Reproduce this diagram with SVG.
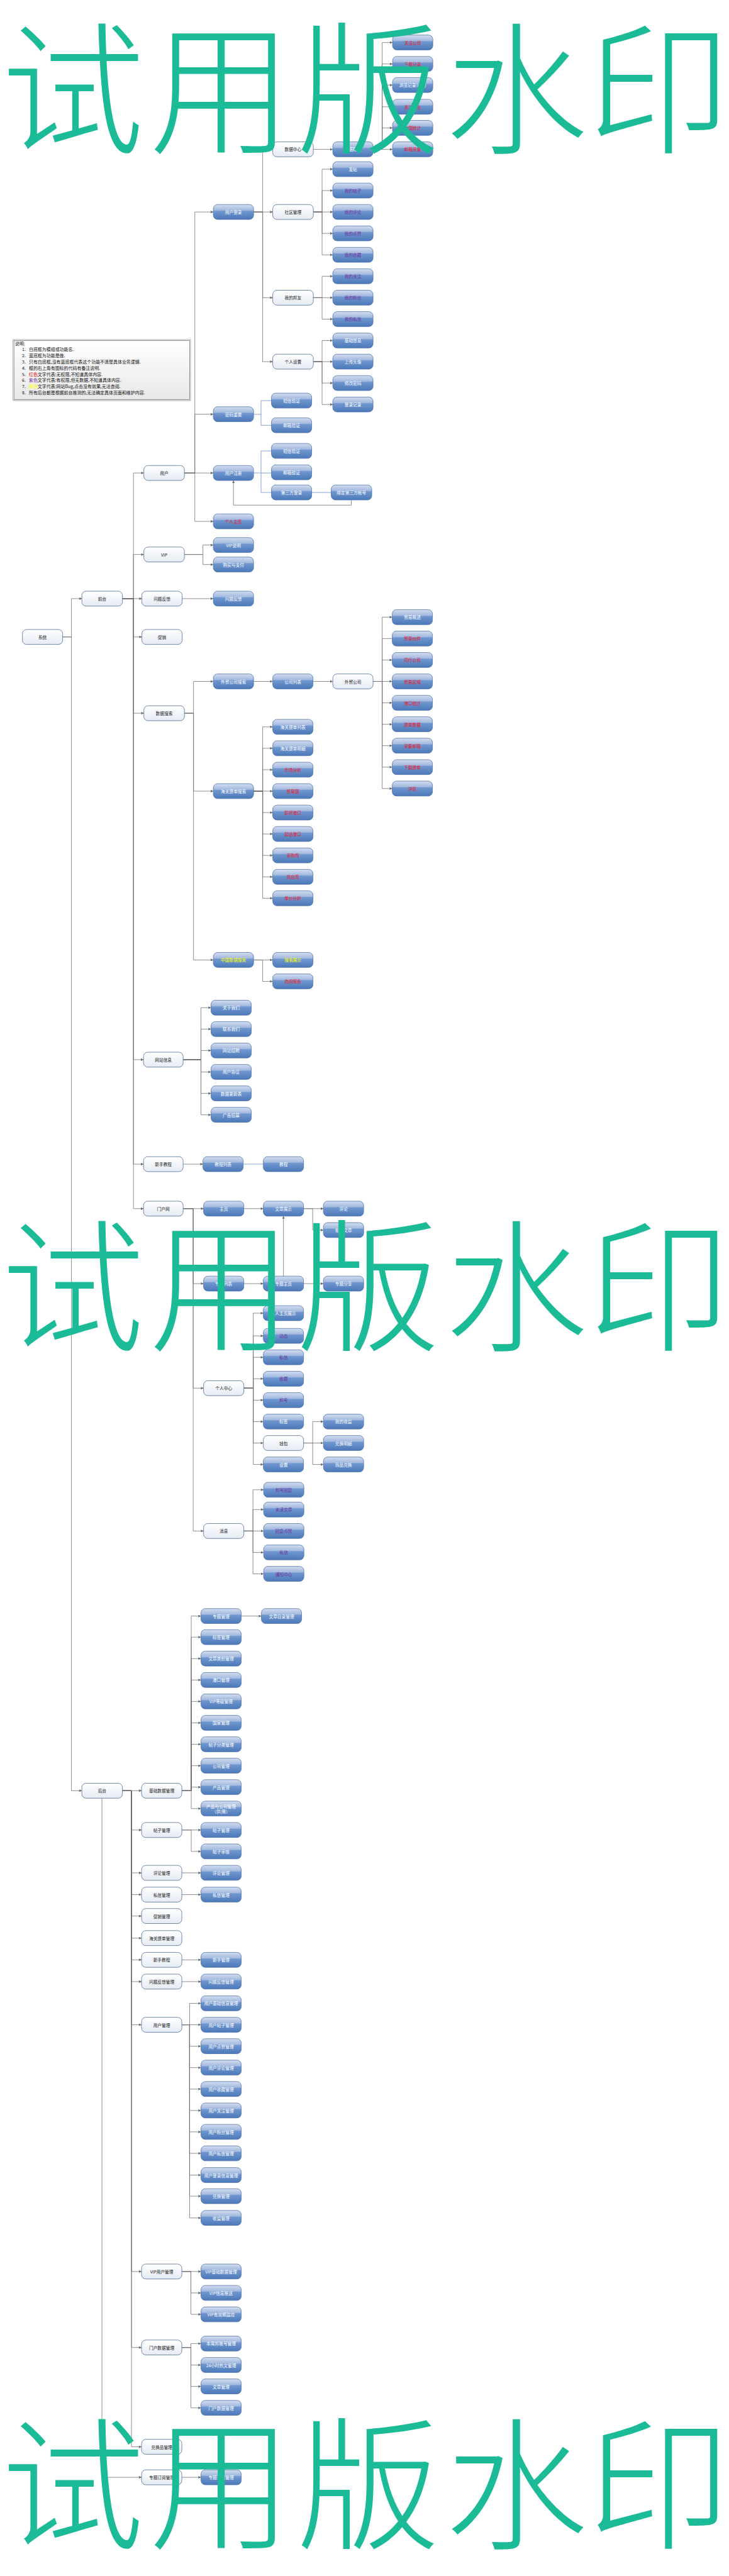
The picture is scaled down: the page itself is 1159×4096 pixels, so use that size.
<svg xmlns="http://www.w3.org/2000/svg" width="1159" height="4096" viewBox="0 0 1159 4096">
<defs>
<linearGradient id="gb" x1="0" y1="0" x2="0" y2="1"><stop offset="0" stop-color="#d3ddef"/><stop offset="0.38" stop-color="#a3b9df"/><stop offset="0.44" stop-color="#7097cf"/><stop offset="1" stop-color="#4c79b9"/></linearGradient>
<linearGradient id="gw" x1="0" y1="0" x2="0" y2="1"><stop offset="0" stop-color="#ffffff"/><stop offset="1" stop-color="#e5ebf4"/></linearGradient>
<linearGradient id="gl" x1="0" y1="0" x2="0" y2="1"><stop offset="0" stop-color="#ffffff"/><stop offset="1" stop-color="#e8e8e8"/></linearGradient>
<marker id="ar" viewBox="0 0 10 10" refX="10" refY="5" markerWidth="10" markerHeight="8" markerUnits="userSpaceOnUse" orient="auto"><path d="M0,0L10,5L0,10z" fill="#6b6b6b"/></marker>
</defs>
<style>
.nb{fill:url(#gb);stroke:#4a70a8;stroke-width:1.5}
.nw{fill:url(#gw);stroke:#4a6790;stroke-width:1.5}
.t{font-family:"Noto Sans CJK SC","Liberation Sans",sans-serif;font-size:13px;text-anchor:middle;dominant-baseline:central}
.tw{fill:#ffffff}.tr{fill:#f0141e}.tp{fill:#7030a0}.ty{fill:#ffff00}.tk{fill:#222222}
.e path{fill:none;stroke:#6e6e6e;stroke-width:1.5;marker-end:url(#ar)}
.e path.na{marker-end:none}
.eb path{fill:none;stroke:#8aa7cf;stroke-width:2}
.lg{font-family:"Noto Sans CJK SC","Liberation Sans",sans-serif;font-size:13.5px;fill:#111;dominant-baseline:central}
.wm{font-family:"Noto Sans CJK SC","Liberation Serif",serif;font-size:440px;font-weight:300;fill:#1bbb98;text-anchor:middle}
</style>
<rect width="1159" height="4096" fill="#ffffff"/>
<g transform="scale(0.5162)">
<g id="legend">
<rect x="40" y="1046" width="547" height="188" fill="none" stroke="#9a9a9a" stroke-width="1.5"/>
<rect x="43" y="1049" width="541" height="182" fill="url(#gl)" stroke="#555" stroke-width="1.2"/>
<text class="lg" x="46" y="1057">说明:</text>
<text class="lg" x="68" y="1076">1.</text><text class="lg" x="89" y="1076">白底框为模组或功能名.</text>
<text class="lg" x="68" y="1095">2.</text><text class="lg" x="89" y="1095">蓝底框为功能是做.</text>
<text class="lg" x="68" y="1114">3.</text><text class="lg" x="89" y="1114">只有白底框,没有蓝底框代表这个功能不清楚具体业务逻辑.</text>
<text class="lg" x="68" y="1133">4.</text><text class="lg" x="89" y="1133">框的右上角有图标的代码有备注说明.</text>
<text class="lg" x="68" y="1152">5.</text><text class="lg" x="89" y="1152"><tspan fill="#e00000">红色</tspan>文字代表:无权限,不知道具体内容.</text>
<text class="lg" x="68" y="1171">6.</text><text class="lg" x="89" y="1171"><tspan fill="#7030a0">紫色</tspan>文字代表:有权限,但无数据,不知道具体内容.</text>
<text class="lg" x="68" y="1190">7.</text><text class="lg" x="89" y="1190"><tspan fill="#ffff00">黄色</tspan>文字代表:网站Bug,点击没有效果,无法查阅.</text>
<text class="lg" x="68" y="1209">8.</text><text class="lg" x="89" y="1209">所有后台都是根据前台推测的,无法确定具体页面和维护内容.</text>
</g>
<g id="edges" class="e">
<path d="M193,1962H220V1844H252"/><path d="M193,1962H220V5516H252"/>
<path d="M377,1844H411V1457H443"/><path d="M377,1844H411V1708H443"/><path d="M377,1844H437"/><path d="M377,1844H411V1962H437"/><path d="M377,1844H411V2197H443"/><path d="M377,1844H411V3264H442"/><path d="M377,1844H411V3586H442"/><path d="M377,1844H411V3723H442"/>
<path d="M568,1457H600V653H657"/><path d="M568,1457H600V1276H657"/><path d="M568,1457H657"/><path d="M568,1457H600V1606H657"/>
<path d="M781,653H809V460H840"/><path d="M781,653H840"/><path d="M781,653H809V917H840"/><path d="M781,653H809V1114H840"/>
<path d="M965,460H1025"/>
<path d="M1149,460H1177V131H1209"/><path d="M1149,460H1177V197H1209"/><path d="M1149,460H1177V262H1209"/><path d="M1149,460H1177V329H1209"/><path d="M1149,460H1177V394H1209"/><path d="M1149,460H1209"/>
<path d="M965,653H992V521H1025"/><path d="M965,653H992V587H1025"/><path d="M965,653H1025"/><path d="M965,653H992V719H1025"/><path d="M965,653H992V785H1025"/>
<path d="M965,917H992V851H1025"/><path d="M965,917H1025"/><path d="M965,917H992V983H1025"/>
<path d="M965,1114H992V1049H1025"/><path d="M965,1114H1025"/><path d="M965,1114H992V1180H1025"/><path d="M965,1114H992V1246H1025"/>
<path d="M1082,1540V1556H719V1480"/>
<path d="M568,1708H625V1679H657"/><path d="M568,1708H625V1739H657"/>
<path d="M561,1844H657"/>
<path d="M568,2197H596V2099H657"/><path d="M568,2197H596V2437H657"/><path d="M568,2197H596V2957H657"/>
<path d="M781,2099H840"/><path d="M964,2099H1025"/>
<path d="M1149,2099H1177V1901H1208"/><path class="na" d="M1149,2099H1177V1967H1208"/><path d="M1149,2099H1177V2033H1208"/><path d="M1149,2099H1208"/><path d="M1149,2099H1177V2165H1208"/><path d="M1149,2099H1177V2231H1208"/><path d="M1149,2099H1177V2297H1208"/><path d="M1149,2099H1177V2363H1208"/><path d="M1149,2099H1177V2429H1208"/>
<path d="M781,2437H809V2239H840"/><path d="M781,2437H809V2305H840"/><path d="M781,2437H809V2371H840"/><path d="M781,2437H840"/><path d="M781,2437H809V2503H840"/><path d="M781,2437H809V2569H840"/><path d="M781,2437H809V2635H840"/><path d="M781,2437H809V2701H840"/><path d="M781,2437H809V2767H840"/>
<path d="M781,2957H840"/><path d="M781,2957H809V3023H840"/>
<path d="M564,3264H619V3104H650"/><path d="M564,3264H619V3170H650"/><path d="M564,3264H619V3236H650"/><path d="M564,3264H619V3302H650"/><path d="M564,3264H619V3368H650"/><path d="M564,3264H619V3434H650"/>
<path d="M564,3586H625"/>
<path d="M564,3723H627"/><path d="M564,3723H595V3954H627"/><path d="M564,3723H595V4276H627"/><path d="M564,3723H595V4716H627"/>
<path d="M751,3723H811"/><path d="M935,3723H996"/><path d="M935,3723H963V3789H996"/>
<path d="M751,3954H811"/><path d="M935,3954H996"/><path d="M873,3931V3746"/>
<path d="M751,4276H780V4045H811"/><path d="M751,4276H780V4115H811"/><path d="M751,4276H780V4181H811"/><path d="M751,4276H780V4247H811"/><path d="M751,4276H780V4313H811"/><path d="M751,4276H780V4379H811"/><path d="M751,4276H780V4445H811"/><path d="M751,4276H780V4511H811"/>
<path d="M935,4445H963V4379H996"/><path d="M935,4445H996"/><path d="M935,4445H963V4511H996"/>
<path d="M751,4716H779V4589H812"/><path d="M751,4716H779V4650H812"/><path d="M751,4716H812"/><path d="M751,4716H779V4782H812"/><path d="M751,4716H779V4848H812"/>
<path d="M377,5516H436"/><path d="M377,5516H405V5637H436"/><path d="M377,5516H405V5769H436"/><path d="M377,5516H405V5836H436"/><path d="M377,5516H405V5902H436"/><path d="M377,5516H405V5970H436"/><path d="M377,5516H405V6037H436"/><path d="M377,5516H405V6104H436"/><path d="M377,5516H405V6237H436"/><path d="M377,5516H405V6997H436"/><path d="M377,5516H405V7231H436"/><path d="M377,5516H405V7537H436"/>
<path d="M314,5539V7631H436"/>
<path d="M560,5516H589V4978H619"/><path d="M560,5516H589V5043H619"/><path d="M560,5516H589V5109H619"/><path d="M560,5516H589V5175H619"/><path d="M560,5516H589V5241H619"/><path d="M560,5516H589V5307H619"/><path d="M560,5516H589V5373H619"/><path d="M560,5516H589V5439H619"/><path d="M560,5516H589V5505H619"/><path d="M560,5516H589V5571H619"/>
<path d="M743,4978H805"/>
<path d="M560,5637H619"/><path d="M560,5637H589V5703H619"/>
<path d="M560,5769H619"/><path d="M560,5836H619"/><path d="M560,6037H619"/><path d="M560,6104H619"/>
<path d="M560,6237H584V6171H619"/><path d="M560,6237H619"/><path d="M560,6237H584V6303H619"/><path d="M560,6237H584V6369H619"/><path d="M560,6237H584V6435H619"/><path d="M560,6237H584V6501H619"/><path d="M560,6237H584V6567H619"/><path d="M560,6237H584V6633H619"/><path d="M560,6237H584V6700H619"/><path d="M560,6237H584V6765H619"/><path d="M560,6237H584V6832H619"/>
<path d="M560,6997H619"/><path d="M560,6997H588V7063H619"/><path d="M560,6997H588V7129H619"/>
<path d="M560,7231H588V7219H619"/><path d="M560,7231H588V7285H619"/><path d="M560,7231H588V7351H619"/><path d="M560,7231H588V7417H619"/>
<path d="M560,7631H619"/>
</g>
<g id="edges-blue" class="eb">
<path d="M781,1276H804V1234H836"/><path d="M804,1276V1310H836"/>
<path d="M781,1457H804V1389H836"/><path d="M804,1457H836"/><path d="M804,1457V1517H836"/>
<path d="M960,1517H1020"/>
<path d="M749,3586H811"/>
</g>
<g id="nodes">
<g id="n-root"><rect class="nw" x="69" y="1939" width="124" height="46" rx="13"/><text class="t tk" x="131" y="1962">系统</text></g>
<g id="n-qt"><rect class="nw" x="252" y="1821" width="125" height="46" rx="13"/><text class="t tk" x="314.5" y="1844">前台</text></g>
<g id="n-ht"><rect class="nw" x="252" y="5493" width="125" height="46" rx="13"/><text class="t tk" x="314.5" y="5516">后台</text></g>
<g id="n-yh"><rect class="nw" x="443" y="1434" width="125" height="46" rx="13"/><text class="t tk" x="505.5" y="1457">用户</text></g>
<g id="n-vip"><rect class="nw" x="443" y="1685" width="125" height="46" rx="13"/><text class="t tk" x="505.5" y="1708">VIP</text></g>
<g id="n-wtfk"><rect class="nw" x="437" y="1821" width="124" height="46" rx="13"/><text class="t tk" x="499" y="1844">问题反馈</text></g>
<g id="n-cx"><rect class="nw" x="437" y="1939" width="124" height="46" rx="13"/><text class="t tk" x="499" y="1962">促销</text></g>
<g id="n-sjss"><rect class="nw" x="443" y="2174" width="125" height="46" rx="13"/><text class="t tk" x="505.5" y="2197">数据搜索</text></g>
<g id="n-wzxx"><rect class="nw" x="442" y="3241" width="122" height="46" rx="13"/><text class="t tk" x="503" y="3264">网站信息</text></g>
<g id="n-xsjc"><rect class="nw" x="442" y="3563" width="122" height="46" rx="13"/><text class="t tk" x="503" y="3586">新手教程</text></g>
<g id="n-mhw"><rect class="nw" x="442" y="3700" width="122" height="46" rx="13"/><text class="t tk" x="503" y="3723">门户网</text></g>
<g id="n-yhdl"><rect class="nb" x="657" y="630" width="124" height="46" rx="13"/><text class="t tw" x="719" y="653">用户登录</text></g>
<g id="n-mmcz"><rect class="nb" x="657" y="1253" width="124" height="46" rx="13"/><text class="t tw" x="719" y="1276">密码重置</text></g>
<g id="n-yhzc"><rect class="nb" x="657" y="1434" width="124" height="46" rx="13"/><text class="t tw" x="719" y="1457">用户注册</text></g>
<g id="n-grzy"><rect class="nb" x="657" y="1583" width="124" height="46" rx="13"/><text class="t tr" x="719" y="1606">个人主页</text></g>
<g id="n-sjzx"><rect class="nw" x="840" y="437" width="125" height="46" rx="13"/><text class="t tk" x="902.5" y="460">数据中心</text></g>
<g id="n-sqgl"><rect class="nw" x="840" y="630" width="125" height="46" rx="13"/><text class="t tk" x="902.5" y="653">社区管理</text></g>
<g id="n-wdbf"><rect class="nw" x="840" y="894" width="125" height="46" rx="13"/><text class="t tk" x="902.5" y="917">我的邦友</text></g>
<g id="n-grsz"><rect class="nw" x="840" y="1091" width="125" height="46" rx="13"/><text class="t tk" x="902.5" y="1114">个人设置</text></g>
<g id="n-sjgl"><rect class="nb" x="1025" y="437" width="124" height="46" rx="13"/><text class="t tw" x="1087" y="460">数据概览</text></g>
<g id="n-gzgs"><rect class="nb" x="1209" y="108" width="124" height="46" rx="13"/><text class="t tr" x="1271" y="131">关注公司</text></g>
<g id="n-xzjl"><rect class="nb" x="1209" y="174" width="124" height="46" rx="13"/><text class="t tr" x="1271" y="197">下载记录</text></g>
<g id="n-lljl"><rect class="nb" x="1209" y="239" width="124" height="46" rx="13"/><text class="t tw" x="1271" y="262">浏览记录(Log)</text></g>
<g id="n-gzhy"><rect class="nb" x="1209" y="306" width="124" height="46" rx="13"/><text class="t tr" x="1271" y="329">关注行业</text></g>
<g id="n-zgtj"><rect class="nb" x="1209" y="371" width="124" height="46" rx="13"/><text class="t tr" x="1271" y="394">中国统计</text></g>
<g id="n-yxcj"><rect class="nb" x="1209" y="437" width="124" height="46" rx="13"/><text class="t tr" x="1271" y="460">邮箱采集</text></g>
<g id="n-ft"><rect class="nb" x="1025" y="498" width="124" height="46" rx="13"/><text class="t tw" x="1087" y="521">发帖</text></g>
<g id="n-wdtz"><rect class="nb" x="1025" y="564" width="124" height="46" rx="13"/><text class="t tp" x="1087" y="587">我的帖子</text></g>
<g id="n-wdpl"><rect class="nb" x="1025" y="630" width="124" height="46" rx="13"/><text class="t tp" x="1087" y="653">我的评论</text></g>
<g id="n-wddz"><rect class="nb" x="1025" y="696" width="124" height="46" rx="13"/><text class="t tp" x="1087" y="719">我的点赞</text></g>
<g id="n-wdsc"><rect class="nb" x="1025" y="762" width="124" height="46" rx="13"/><text class="t tp" x="1087" y="785">我的收藏</text></g>
<g id="n-wdgz"><rect class="nb" x="1025" y="828" width="124" height="46" rx="13"/><text class="t tp" x="1087" y="851">我的关注</text></g>
<g id="n-wdfs"><rect class="nb" x="1025" y="894" width="124" height="46" rx="13"/><text class="t tp" x="1087" y="917">我的粉丝</text></g>
<g id="n-wdsx"><rect class="nb" x="1025" y="960" width="124" height="46" rx="13"/><text class="t tp" x="1087" y="983">我的私信</text></g>
<g id="n-jcxx"><rect class="nb" x="1025" y="1026" width="124" height="46" rx="13"/><text class="t tw" x="1087" y="1049">基础信息</text></g>
<g id="n-scdx"><rect class="nb" x="1025" y="1091" width="124" height="46" rx="13"/><text class="t tw" x="1087" y="1114">上传头像</text></g>
<g id="n-xgmm"><rect class="nb" x="1025" y="1157" width="124" height="46" rx="13"/><text class="t tw" x="1087" y="1180">修改密码</text></g>
<g id="n-dljl"><rect class="nb" x="1025" y="1223" width="124" height="46" rx="13"/><text class="t tw" x="1087" y="1246">登录记录</text></g>
<g id="n-dxyz1"><rect class="nb" x="836" y="1211" width="124" height="46" rx="13"/><text class="t tw" x="898" y="1234">短信验证</text></g>
<g id="n-yxyz1"><rect class="nb" x="836" y="1287" width="124" height="46" rx="13"/><text class="t tw" x="898" y="1310">邮箱验证</text></g>
<g id="n-dxyz2"><rect class="nb" x="836" y="1366" width="124" height="46" rx="13"/><text class="t tw" x="898" y="1389">短信验证</text></g>
<g id="n-yxyz2"><rect class="nb" x="836" y="1432" width="124" height="46" rx="13"/><text class="t tw" x="898" y="1455">邮箱验证</text></g>
<g id="n-dsfdl"><rect class="nb" x="836" y="1494" width="124" height="46" rx="13"/><text class="t tw" x="898" y="1517">第三方登录</text></g>
<g id="n-bd"><rect class="nb" x="1020" y="1494" width="125" height="46" rx="13"/><text class="t tw" x="1082.5" y="1517">绑定第三方帐号</text></g>
<g id="n-vipsm"><rect class="nb" x="657" y="1656" width="124" height="46" rx="13"/><text class="t tw" x="719" y="1679">VIP说明</text></g>
<g id="n-gmzf"><rect class="nb" x="657" y="1716" width="124" height="46" rx="13"/><text class="t tw" x="719" y="1739">购买与支付</text></g>
<g id="n-wtfk2"><rect class="nb" x="657" y="1821" width="124" height="46" rx="13"/><text class="t tw" x="719" y="1844">问题反馈</text></g>
<g id="n-wmgsss"><rect class="nb" x="657" y="2076" width="124" height="46" rx="13"/><text class="t tw" x="719" y="2099">外贸公司搜索</text></g>
<g id="n-hgtdss"><rect class="nb" x="657" y="2414" width="124" height="46" rx="13"/><text class="t tw" x="719" y="2437">海关提单搜索</text></g>
<g id="n-zgsjss"><rect class="nb" x="657" y="2934" width="124" height="46" rx="13"/><text class="t ty" x="719" y="2957">中国数据搜索</text></g>
<g id="n-gslb"><rect class="nb" x="840" y="2076" width="124" height="46" rx="13"/><text class="t tw" x="902" y="2099">公司列表</text></g>
<g id="n-wmgs"><rect class="nw" x="1025" y="2076" width="124" height="46" rx="13"/><text class="t tk" x="1087" y="2099">外贸公司</text></g>
<g id="n-mygs"><rect class="nb" x="1208" y="1878" width="124" height="46" rx="13"/><text class="t tw" x="1270" y="1901">贸易概述</text></g>
<g id="n-myhb"><rect class="nb" x="1208" y="1944" width="124" height="46" rx="13"/><text class="t tr" x="1270" y="1967">贸易伙伴</text></g>
<g id="n-thgs"><rect class="nb" x="1208" y="2010" width="124" height="46" rx="13"/><text class="t tr" x="1270" y="2033">同行公司</text></g>
<g id="n-myqy"><rect class="nb" x="1208" y="2076" width="124" height="46" rx="13"/><text class="t tr" x="1270" y="2099">贸易区域</text></g>
<g id="n-gktj"><rect class="nb" x="1208" y="2142" width="124" height="46" rx="13"/><text class="t tr" x="1270" y="2165">港口统计</text></g>
<g id="n-tdsj"><rect class="nb" x="1208" y="2208" width="124" height="46" rx="13"/><text class="t tr" x="1270" y="2231">提单数据</text></g>
<g id="n-cjyx"><rect class="nb" x="1208" y="2274" width="124" height="46" rx="13"/><text class="t tr" x="1270" y="2297">采集邮箱</text></g>
<g id="n-xztd"><rect class="nb" x="1208" y="2340" width="124" height="46" rx="13"/><text class="t tr" x="1270" y="2363">下载提单</text></g>
<g id="n-xq"><rect class="nb" x="1208" y="2406" width="124" height="46" rx="13"/><text class="t tr" x="1270" y="2429">详情</text></g>
<g id="n-hgtdlb"><rect class="nb" x="840" y="2216" width="124" height="46" rx="13"/><text class="t tw" x="902" y="2239">海关提单列表</text></g>
<g id="n-hgtdmx"><rect class="nb" x="840" y="2282" width="124" height="46" rx="13"/><text class="t tw" x="902" y="2305">海关提单明细</text></g>
<g id="n-scfx"><rect class="nb" x="840" y="2348" width="124" height="46" rx="13"/><text class="t tr" x="902" y="2371">市场分析</text></g>
<g id="n-myg"><rect class="nb" x="840" y="2414" width="124" height="46" rx="13"/><text class="t tr" x="902" y="2437">贸易国</text></g>
<g id="n-xhgk"><rect class="nb" x="840" y="2480" width="124" height="46" rx="13"/><text class="t tr" x="902" y="2503">卸货港口</text></g>
<g id="n-qygk"><rect class="nb" x="840" y="2546" width="124" height="46" rx="13"/><text class="t tr" x="902" y="2569">起运港口</text></g>
<g id="n-cgs"><rect class="nb" x="840" y="2612" width="124" height="46" rx="13"/><text class="t tr" x="902" y="2635">采购商</text></g>
<g id="n-gys"><rect class="nb" x="840" y="2678" width="124" height="46" rx="13"/><text class="t tr" x="902" y="2701">供应商</text></g>
<g id="n-djfx"><rect class="nb" x="840" y="2744" width="124" height="46" rx="13"/><text class="t tr" x="902" y="2767">单价分析</text></g>
<g id="n-sszs"><rect class="nb" x="840" y="2934" width="124" height="46" rx="13"/><text class="t ty" x="902" y="2957">搜索展示</text></g>
<g id="n-cybg"><rect class="nb" x="840" y="3000" width="124" height="46" rx="13"/><text class="t tr" x="902" y="3023">查阅报告</text></g>
<g id="n-gywm"><rect class="nb" x="650" y="3081" width="124" height="46" rx="13"/><text class="t tw" x="712" y="3104">关于我们</text></g>
<g id="n-lxwm"><rect class="nb" x="650" y="3147" width="124" height="46" rx="13"/><text class="t tw" x="712" y="3170">联系我们</text></g>
<g id="n-wzzp"><rect class="nb" x="650" y="3213" width="124" height="46" rx="13"/><text class="t tw" x="712" y="3236">网站招聘</text></g>
<g id="n-yhxy"><rect class="nb" x="650" y="3279" width="124" height="46" rx="13"/><text class="t tw" x="712" y="3302">用户协议</text></g>
<g id="n-sjgxb"><rect class="nb" x="650" y="3345" width="124" height="46" rx="13"/><text class="t tw" x="712" y="3368">数据更新表</text></g>
<g id="n-ggzm"><rect class="nb" x="650" y="3411" width="124" height="46" rx="13"/><text class="t tw" x="712" y="3434">广告招募</text></g>
<g id="n-jclb"><rect class="nb" x="625" y="3563" width="124" height="46" rx="13"/><text class="t tw" x="687" y="3586">教程列表</text></g>
<g id="n-jc"><rect class="nb" x="811" y="3563" width="124" height="46" rx="13"/><text class="t tw" x="873" y="3586">教程</text></g>
<g id="n-zy"><rect class="nb" x="627" y="3700" width="124" height="46" rx="13"/><text class="t tw" x="689" y="3723">主页</text></g>
<g id="n-ztlb"><rect class="nb" x="627" y="3931" width="124" height="46" rx="13"/><text class="t tw" x="689" y="3954">专题列表</text></g>
<g id="n-grzx"><rect class="nw" x="627" y="4253" width="124" height="46" rx="13"/><text class="t tk" x="689" y="4276">个人中心</text></g>
<g id="n-xx"><rect class="nw" x="627" y="4693" width="124" height="46" rx="13"/><text class="t tk" x="689" y="4716">消息</text></g>
<g id="n-wzzs"><rect class="nb" x="811" y="3700" width="124" height="46" rx="13"/><text class="t tw" x="873" y="3723">文章展示</text></g>
<g id="n-pl"><rect class="nb" x="996" y="3700" width="124" height="46" rx="13"/><text class="t tw" x="1058" y="3723">评论</text></g>
<g id="n-xgwz"><rect class="nb" x="996" y="3766" width="124" height="46" rx="13"/><text class="t tw" x="1058" y="3789">相关文章</text></g>
<g id="n-ztzy"><rect class="nb" x="811" y="3931" width="124" height="46" rx="13"/><text class="t tw" x="873" y="3954">专题主页</text></g>
<g id="n-ztfx"><rect class="nb" x="996" y="3931" width="124" height="46" rx="13"/><text class="t tw" x="1058" y="3954">专题分享</text></g>
<g id="n-grzyzs"><rect class="nb" x="811" y="4022" width="124" height="46" rx="13"/><text class="t tw" x="873" y="4045">个人主页展示</text></g>
<g id="n-dt"><rect class="nb" x="811" y="4092" width="124" height="46" rx="13"/><text class="t tp" x="873" y="4115">动态</text></g>
<g id="n-sx"><rect class="nb" x="811" y="4158" width="124" height="46" rx="13"/><text class="t tp" x="873" y="4181">私信</text></g>
<g id="n-sc"><rect class="nb" x="811" y="4224" width="124" height="46" rx="13"/><text class="t tp" x="873" y="4247">收藏</text></g>
<g id="n-bh"><rect class="nb" x="811" y="4290" width="124" height="46" rx="13"/><text class="t tp" x="873" y="4313">邦号</text></g>
<g id="n-bq"><rect class="nb" x="811" y="4356" width="124" height="46" rx="13"/><text class="t tw" x="873" y="4379">标签</text></g>
<g id="n-qb"><rect class="nw" x="811" y="4422" width="124" height="46" rx="13"/><text class="t tk" x="873" y="4445">钱包</text></g>
<g id="n-sz"><rect class="nb" x="811" y="4488" width="124" height="46" rx="13"/><text class="t tw" x="873" y="4511">设置</text></g>
<g id="n-wdsy"><rect class="nb" x="996" y="4356" width="124" height="46" rx="13"/><text class="t tw" x="1058" y="4379">我的收益</text></g>
<g id="n-dhmx"><rect class="nb" x="996" y="4422" width="124" height="46" rx="13"/><text class="t tw" x="1058" y="4445">兑换明细</text></g>
<g id="n-spdh"><rect class="nb" x="996" y="4488" width="124" height="46" rx="13"/><text class="t tw" x="1058" y="4511">商品兑换</text></g>
<g id="n-bhhf"><rect class="nb" x="812" y="4566" width="124" height="46" rx="13"/><text class="t tp" x="874" y="4589">邦号回复</text></g>
<g id="n-wdwz"><rect class="nb" x="812" y="4627" width="124" height="46" rx="13"/><text class="t tp" x="874" y="4650">未读文章</text></g>
<g id="n-hfdz"><rect class="nb" x="812" y="4693" width="124" height="46" rx="13"/><text class="t tp" x="874" y="4716">回复点赞</text></g>
<g id="n-sx2"><rect class="nb" x="812" y="4759" width="124" height="46" rx="13"/><text class="t tp" x="874" y="4782">私信</text></g>
<g id="n-tzzx"><rect class="nb" x="812" y="4825" width="124" height="46" rx="13"/><text class="t tp" x="874" y="4848">通知中心</text></g>
<g id="n-jcsjgl"><rect class="nw" x="436" y="5493" width="124" height="46" rx="13"/><text class="t tk" x="498" y="5516">基础数据管理</text></g>
<g id="n-tzgl"><rect class="nw" x="436" y="5614" width="124" height="46" rx="13"/><text class="t tk" x="498" y="5637">帖子管理</text></g>
<g id="n-plgl"><rect class="nw" x="436" y="5746" width="124" height="46" rx="13"/><text class="t tk" x="498" y="5769">评论管理</text></g>
<g id="n-sxgl"><rect class="nw" x="436" y="5813" width="124" height="46" rx="13"/><text class="t tk" x="498" y="5836">私信管理</text></g>
<g id="n-cxgl"><rect class="nw" x="436" y="5879" width="124" height="46" rx="13"/><text class="t tk" x="498" y="5902">促销管理</text></g>
<g id="n-hgtdgl"><rect class="nw" x="436" y="5947" width="124" height="46" rx="13"/><text class="t tk" x="498" y="5970">海关提单管理</text></g>
<g id="n-xsjc2"><rect class="nw" x="436" y="6014" width="124" height="46" rx="13"/><text class="t tk" x="498" y="6037">新手教程</text></g>
<g id="n-wtfkgl"><rect class="nw" x="436" y="6081" width="124" height="46" rx="13"/><text class="t tk" x="498" y="6104">问题反馈管理</text></g>
<g id="n-yhgl"><rect class="nw" x="436" y="6214" width="124" height="46" rx="13"/><text class="t tk" x="498" y="6237">用户管理</text></g>
<g id="n-vipyhgl"><rect class="nw" x="436" y="6974" width="124" height="46" rx="13"/><text class="t tk" x="498" y="6997">VIP用户管理</text></g>
<g id="n-mhsjgl"><rect class="nw" x="436" y="7208" width="124" height="46" rx="13"/><text class="t tk" x="498" y="7231">门户数据管理</text></g>
<g id="n-dhpgl"><rect class="nw" x="436" y="7514" width="124" height="46" rx="13"/><text class="t tk" x="498" y="7537">兑换品管理</text></g>
<g id="n-ztdygl"><rect class="nw" x="436" y="7608" width="124" height="46" rx="13"/><text class="t tk" x="498" y="7631">专题订阅管理</text></g>
<g id="n-ztgl"><rect class="nb" x="619" y="4955" width="124" height="46" rx="13"/><text class="t tw" x="681" y="4978">专题管理</text></g>
<g id="n-bqgl"><rect class="nb" x="619" y="5020" width="124" height="46" rx="13"/><text class="t tw" x="681" y="5043">标签管理</text></g>
<g id="n-wzlbgl"><rect class="nb" x="619" y="5086" width="124" height="46" rx="13"/><text class="t tw" x="681" y="5109">文章类别管理</text></g>
<g id="n-gkgl"><rect class="nb" x="619" y="5152" width="124" height="46" rx="13"/><text class="t tw" x="681" y="5175">港口管理</text></g>
<g id="n-vipdjgl"><rect class="nb" x="619" y="5218" width="124" height="46" rx="13"/><text class="t tw" x="681" y="5241">VIP等级管理</text></g>
<g id="n-gjgl"><rect class="nb" x="619" y="5284" width="124" height="46" rx="13"/><text class="t tw" x="681" y="5307">国家管理</text></g>
<g id="n-tzflgl"><rect class="nb" x="619" y="5350" width="124" height="46" rx="13"/><text class="t tw" x="681" y="5373">帖子分类管理</text></g>
<g id="n-gsgl"><rect class="nb" x="619" y="5416" width="124" height="46" rx="13"/><text class="t tw" x="681" y="5439">公司管理</text></g>
<g id="n-cpgl"><rect class="nb" x="619" y="5482" width="124" height="46" rx="13"/><text class="t tw" x="681" y="5505">产品管理</text></g>
<g id="n-cpgsgl"><rect class="nb" x="619" y="5548" width="124" height="46" rx="13"/><text class="t tw" x="681" y="5563">产品与公司管理</text><text class="t tw" x="681" y="5580">（供|需）</text></g>
<g id="n-wzmlgl"><rect class="nb" x="805" y="4955" width="124" height="46" rx="13"/><text class="t tw" x="867" y="4978">文章目录管理</text></g>
<g id="n-tzgl2"><rect class="nb" x="619" y="5614" width="124" height="46" rx="13"/><text class="t tw" x="681" y="5637">帖子管理</text></g>
<g id="n-tzsh"><rect class="nb" x="619" y="5680" width="124" height="46" rx="13"/><text class="t tw" x="681" y="5703">帖子审核</text></g>
<g id="n-plgl2"><rect class="nb" x="619" y="5746" width="124" height="46" rx="13"/><text class="t tw" x="681" y="5769">评论管理</text></g>
<g id="n-sxgl2"><rect class="nb" x="619" y="5813" width="124" height="46" rx="13"/><text class="t tw" x="681" y="5836">私信管理</text></g>
<g id="n-xsgl"><rect class="nb" x="619" y="6014" width="124" height="46" rx="13"/><text class="t tw" x="681" y="6037">新手管理</text></g>
<g id="n-wtfkgl2"><rect class="nb" x="619" y="6081" width="124" height="46" rx="13"/><text class="t tw" x="681" y="6104">问题反馈管理</text></g>
<g id="n-u1"><rect class="nb" x="619" y="6148" width="124" height="46" rx="13"/><text class="t tw" x="681" y="6171">用户基础信息管理</text></g>
<g id="n-u2"><rect class="nb" x="619" y="6214" width="124" height="46" rx="13"/><text class="t tw" x="681" y="6237">用户帖子管理</text></g>
<g id="n-u3"><rect class="nb" x="619" y="6280" width="124" height="46" rx="13"/><text class="t tw" x="681" y="6303">用户点赞管理</text></g>
<g id="n-u4"><rect class="nb" x="619" y="6346" width="124" height="46" rx="13"/><text class="t tw" x="681" y="6369">用户评论管理</text></g>
<g id="n-u5"><rect class="nb" x="619" y="6412" width="124" height="46" rx="13"/><text class="t tw" x="681" y="6435">用户收藏管理</text></g>
<g id="n-u6"><rect class="nb" x="619" y="6478" width="124" height="46" rx="13"/><text class="t tw" x="681" y="6501">用户关注管理</text></g>
<g id="n-u7"><rect class="nb" x="619" y="6544" width="124" height="46" rx="13"/><text class="t tw" x="681" y="6567">用户粉丝管理</text></g>
<g id="n-u8"><rect class="nb" x="619" y="6610" width="124" height="46" rx="13"/><text class="t tw" x="681" y="6633">用户私信管理</text></g>
<g id="n-u9"><rect class="nb" x="619" y="6677" width="124" height="46" rx="13"/><text class="t tw" x="681" y="6700">用户登录信息管理</text></g>
<g id="n-u10"><rect class="nb" x="619" y="6742" width="124" height="46" rx="13"/><text class="t tw" x="681" y="6765">兑换管理</text></g>
<g id="n-u11"><rect class="nb" x="619" y="6809" width="124" height="46" rx="13"/><text class="t tw" x="681" y="6832">收益管理</text></g>
<g id="n-v1"><rect class="nb" x="619" y="6974" width="124" height="46" rx="13"/><text class="t tw" x="681" y="6997">VIP基础数据管理</text></g>
<g id="n-v2"><rect class="nb" x="619" y="7040" width="124" height="46" rx="13"/><text class="t tw" x="681" y="7063">VIP信息推送</text></g>
<g id="n-v3"><rect class="nb" x="619" y="7106" width="124" height="46" rx="13"/><text class="t tw" x="681" y="7129">VIP有效期监控</text></g>
<g id="n-m1"><rect class="nb" x="619" y="7196" width="124" height="46" rx="13"/><text class="t tw" x="681" y="7219">本周邦推号管理</text></g>
<g id="n-m2"><rect class="nb" x="619" y="7262" width="124" height="46" rx="13"/><text class="t tw" x="681" y="7285">24小时热文管理</text></g>
<g id="n-m3"><rect class="nb" x="619" y="7328" width="124" height="46" rx="13"/><text class="t tw" x="681" y="7351">文章管理</text></g>
<g id="n-m4"><rect class="nb" x="619" y="7394" width="124" height="46" rx="13"/><text class="t tw" x="681" y="7417">门户数据管理</text></g>
<g id="n-ztdy"><rect class="nb" x="619" y="7608" width="124" height="46" rx="13"/><text class="t tw" x="681" y="7631">专题订阅管理</text></g>
</g>
<g id="watermarks">
<text class="wm" x="225 680 1135 1590 2030" y="440">试用版水印</text>
<text class="wm" x="225 680 1135 1590 2030" y="4129">试用版水印</text>
<text class="wm" x="225 680 1135 1590 2030" y="7819">试用版水印</text>
</g>
</g>
</svg>
